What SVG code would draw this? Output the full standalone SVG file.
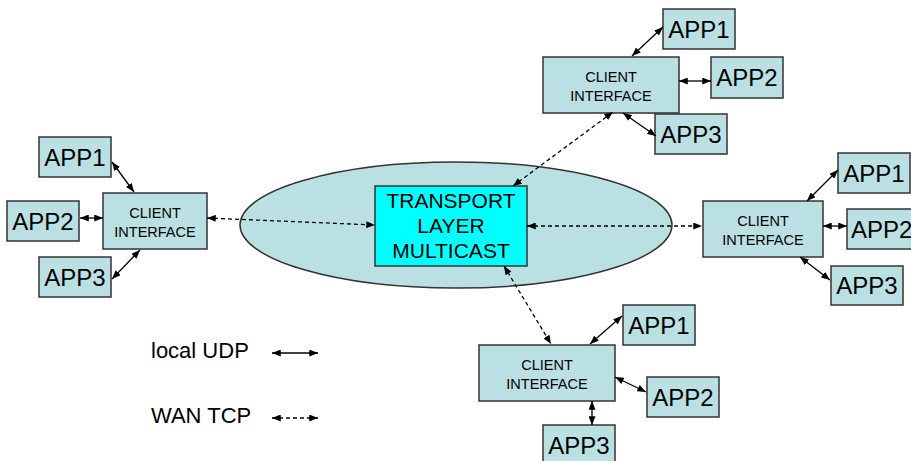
<svg xmlns="http://www.w3.org/2000/svg" width="911" height="461" viewBox="0 0 911 461">
  <defs>
    <marker id="ah" viewBox="0 0 10 8" refX="10" refY="4" markerWidth="9" markerHeight="7" markerUnits="userSpaceOnUse" orient="auto-start-reverse">
      <path d="M0,0 L10,4 L0,8 z" fill="#000"/>
    </marker>
    <style>
      .box { fill: #BBE0E3; stroke: #333; stroke-width: 1.5; }
      .core { fill: #00FFFF; stroke: #333; stroke-width: 1.5; }
      .app { font-family: "Liberation Sans", Arial, sans-serif; font-size: 24px; text-anchor: middle; fill: #000; }
      .ci { font-family: "Liberation Sans", Arial, sans-serif; font-size: 14.5px; text-anchor: middle; fill: #000; }
      .big { font-family: "Liberation Sans", Arial, sans-serif; font-size: 21px; text-anchor: middle; fill: #000; }
      .legend { font-family: "Liberation Sans", Arial, sans-serif; font-size: 22px; fill: #000; }
      .udp { stroke: #000; stroke-width: 1.3; fill: none; marker-start: url(#ah); marker-end: url(#ah); }
      .tcp { stroke: #000; stroke-width: 1.3; fill: none; stroke-dasharray: 4 3; marker-start: url(#ah); marker-end: url(#ah); }
    </style>
  </defs>

  <rect width="911" height="461" fill="#fff"/>

  <!-- central multicast transport -->
  <g id="transport">
    <ellipse cx="456" cy="225" rx="216" ry="63" class="box"/>
    <rect x="375" y="186" width="152" height="80" class="core"/>
    <text x="451" y="208" class="big">TRANSPORT</text>
    <text x="451" y="233" class="big">LAYER</text>
    <text x="451" y="258" class="big">MULTICAST</text>
  </g>

  <!-- west client -->
  <g id="client-west">
    <rect x="103" y="193" width="104" height="56" class="box"/>
    <text x="155" y="218" class="ci">CLIENT</text>
    <text x="155" y="237" class="ci">INTERFACE</text>
  </g>
  <g id="west-app1"><rect x="39" y="137" width="72" height="40" class="box"/><text x="75" y="166" class="app">APP1</text></g>
  <g id="west-app2"><rect x="7" y="201" width="72" height="40" class="box"/><text x="43" y="230" class="app">APP2</text></g>
  <g id="west-app3"><rect x="39" y="257" width="72" height="40" class="box"/><text x="75" y="286" class="app">APP3</text></g>

  <!-- north client -->
  <g id="client-north">
    <rect x="543" y="57" width="136" height="56" class="box"/>
    <text x="611" y="82" class="ci">CLIENT</text>
    <text x="611" y="101" class="ci">INTERFACE</text>
  </g>
  <g id="north-app1"><rect x="663" y="9" width="72" height="40" class="box"/><text x="699" y="38" class="app">APP1</text></g>
  <g id="north-app2"><rect x="711" y="57" width="72" height="41" class="box"/><text x="747" y="86" class="app">APP2</text></g>
  <g id="north-app3"><rect x="655" y="114" width="72" height="40" class="box"/><text x="691" y="143" class="app">APP3</text></g>

  <!-- east client -->
  <g id="client-east">
    <rect x="703" y="201" width="120" height="56" class="box"/>
    <text x="763" y="226" class="ci">CLIENT</text>
    <text x="763" y="245" class="ci">INTERFACE</text>
  </g>
  <g id="east-app1"><rect x="838" y="153" width="72" height="40" class="box"/><text x="874" y="182" class="app">APP1</text></g>
  <!-- this box runs past the right edge of the canvas -->
  <g id="east-app2"><rect x="847" y="209" width="72" height="40" class="box"/><text x="851" y="238" class="app" text-anchor="start" style="text-anchor:start">APP2</text></g>
  <g id="east-app3"><rect x="831" y="266" width="72" height="39" class="box"/><text x="867" y="294" class="app">APP3</text></g>

  <!-- south client -->
  <g id="client-south">
    <rect x="479" y="345" width="136" height="56" class="box"/>
    <text x="547" y="370" class="ci">CLIENT</text>
    <text x="547" y="389" class="ci">INTERFACE</text>
  </g>
  <g id="south-app1"><rect x="623" y="305" width="72" height="40" class="box"/><text x="659" y="334" class="app">APP1</text></g>
  <g id="south-app2"><rect x="647" y="377" width="72" height="40" class="box"/><text x="683" y="406" class="app">APP2</text></g>
  <g id="south-app3"><rect x="543" y="425" width="72" height="40" class="box"/><text x="579" y="454" class="app">APP3</text></g>

  <!-- legend -->
  <g id="legend">
    <text x="151" y="358" class="legend">local UDP</text>
    <text x="151" y="423" class="legend">WAN TCP</text>
  </g>

  <g id="connectors">
    <!-- local UDP links -->
    <line x1="112" y1="162" x2="134" y2="192" class="udp"/>
    <line x1="80" y1="218" x2="103" y2="218" class="udp"/>
    <line x1="112" y1="279" x2="140" y2="250" class="udp"/>

    <line x1="663" y1="27" x2="632" y2="56" class="udp"/>
    <line x1="679" y1="81" x2="711" y2="81" class="udp"/>
    <line x1="623" y1="113" x2="656" y2="136" class="udp"/>

    <line x1="838" y1="170" x2="807" y2="201" class="udp"/>
    <line x1="823" y1="226" x2="847" y2="226" class="udp"/>
    <line x1="800" y1="257" x2="830" y2="280" class="udp"/>

    <line x1="622" y1="316" x2="590" y2="344" class="udp"/>
    <line x1="615" y1="377" x2="646" y2="392" class="udp"/>
    <line x1="592" y1="401" x2="592" y2="425" class="udp"/>

    <!-- WAN TCP links -->
    <line x1="207" y1="218" x2="375" y2="225" class="tcp"/>
    <line x1="527" y1="226" x2="702" y2="226" class="tcp"/>
    <line x1="513" y1="186" x2="613" y2="112" class="tcp"/>
    <line x1="504" y1="266" x2="551" y2="344" class="tcp"/>

    <!-- legend samples -->
    <line x1="272" y1="353" x2="318" y2="353" class="udp"/>
    <line x1="272" y1="418" x2="318" y2="418" class="tcp"/>
  </g>
</svg>
